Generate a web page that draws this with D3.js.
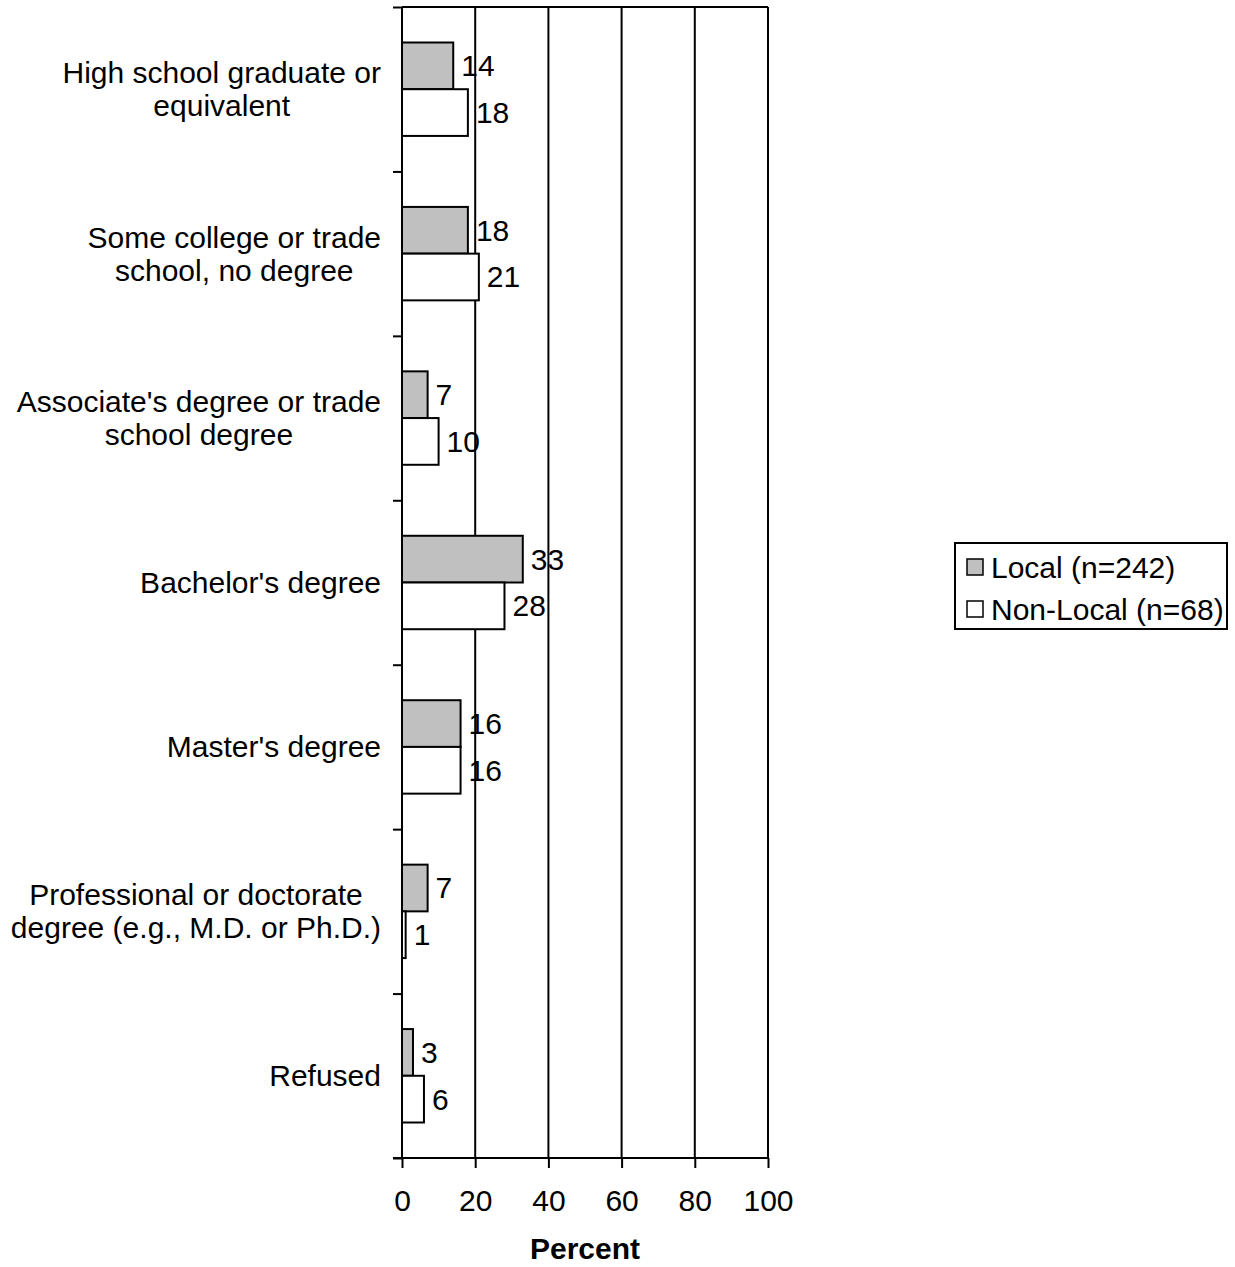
<!DOCTYPE html>
<html>
<head>
<meta charset="utf-8">
<script src="https://cdn.jsdelivr.net/npm/d3@7"></script>
<style>
  body { margin: 0; background: #fff; }
  svg text { font-family: "Liberation Sans", Arial, sans-serif; fill: #000; }
</style>
</head>
<body>
<svg id="chart"></svg>
<script>
// Education level by visitor type
const categories = [
    ["High school graduate or", "equivalent"],
    ["Some college or trade", "school, no degree"],
    ["Associate's degree or trade", "school degree"],
    ["Bachelor's degree"],
    ["Master's degree"],
    ["Professional or doctorate", "degree (e.g., M.D. or Ph.D.)"],
    ["Refused"]
];
const localValues = [14, 18, 7, 33, 16, 7, 3];
const nonLocalValues = [18, 21, 10, 28, 16, 1, 6];
const seriesNames = ["Local (n=242)", "Non-Local (n=68)"];
const xTicks = [0, 20, 40, 60, 80, 100];

const W = 1235, H = 1267;
const margin = {top: 7, left: 402, right: 467, bottom: 109};
const width = W - margin.left - margin.right;
const height = H - margin.top - margin.bottom;
const fontSize = 30;

const svg = d3.select("#chart")
    .attr("width", W)
    .attr("height", H)
    .append("g")
    .attr("transform", `translate(${margin.left},${margin.top})`);

const data = categories.map((c, i) => ({
    label: c,
    values: [localValues[i], nonLocalValues[i]]
}));

// Scales
const x = d3.scaleLinear().domain([0, 100]).range([0, width]);
const y = d3.scaleBand().domain(d3.range(categories.length)).range([0, height]);
const sub = d3.scaleBand().domain([0, 1]).range([0, y.bandwidth()]).paddingOuter(0.76).paddingInner(0);
const fills = ["#c0c0c0", "#ffffff"];

// Gridlines
svg.append("g")
    .selectAll("line")
    .data(xTicks.filter(t => t > 0))
    .enter()
    .append("line")
    .attr("x1", d => x(d))
    .attr("x2", d => x(d))
    .attr("y1", 0)
    .attr("y2", height)
    .attr("stroke", "#000")
    .attr("stroke-width", 2);

// top border of plot area
svg.append("line")
    .attr("x1", 0).attr("x2", width)
    .attr("y1", 0).attr("y2", 0)
    .attr("stroke", "#000").attr("stroke-width", 2);

// Bars
const groups = svg.selectAll(".cat")
    .data(data)
    .enter()
    .append("g")
    .attr("transform", (d, i) => `translate(0,${y(i)})`);

groups.selectAll("rect")
    .data(d => d.values)
    .enter()
    .append("rect")
    .attr("x", 0)
    .attr("y", (d, j) => sub(j))
    .attr("width", d => x(d))
    .attr("height", sub.bandwidth())
    .attr("fill", (d, j) => fills[j])
    .attr("stroke", "#000")
    .attr("stroke-width", 2);

groups.selectAll(".val")
    .data(d => d.values)
    .enter()
    .append("text")
    .attr("x", d => x(d) + 8)
    .attr("y", (d, j) => sub(j) + sub.bandwidth() / 2)
    .attr("dy", "0.35em")
    .attr("font-size", fontSize)
    .text(d => d);

// Category labels
groups.each(function(d) {
    const g = d3.select(this);
    const lineH = 33;
    const t = g.append("text")
        .attr("font-size", fontSize)
        .attr("text-anchor", "middle");
    d.label.forEach((line, k) => {
        t.append("tspan")
            .attr("x", 0)
            .attr("y", y.bandwidth() / 2 + (k - (d.label.length - 1) / 2) * lineH)
            .attr("dy", "0.35em")
            .text(line);
    });
    const bb = t.node().getBBox();
    t.attr("transform", `translate(${-21 - bb.width / 2},0)`);
});

// Left axis
const yAxis = svg.append("g")
    .call(d3.axisLeft(d3.scaleLinear().domain([0, categories.length]).range([0, height]))
        .ticks(categories.length).tickSize(9).tickFormat(""));
yAxis.select(".domain").attr("stroke-width", 2).attr("d", `M0,0V${height}`);
yAxis.selectAll(".tick line").attr("stroke-width", 2);

// Bottom axis
const xAxis = svg.append("g")
    .attr("transform", `translate(0,${height})`)
    .call(d3.axisBottom(x).tickValues(xTicks).tickSize(10).tickPadding(22));
xAxis.select(".domain").attr("stroke-width", 2).attr("d", `M-9,0H${width}`);
xAxis.selectAll(".tick line").attr("stroke-width", 2);
xAxis.selectAll(".tick text")
    .attr("font-size", fontSize)
    .attr("font-family", "Liberation Sans, Arial, sans-serif");

// Axis title
svg.append("text")
    .attr("x", width / 2)
    .attr("y", height + 101)
    .attr("text-anchor", "middle")
    .attr("font-size", fontSize)
    .attr("font-weight", "bold")
    .text("Percent");

// Legend
const legend = svg.append("g")
    .attr("transform", `translate(${955 - margin.left},${543 - margin.top})`);
legend.append("rect")
    .attr("width", 272)
    .attr("height", 86)
    .attr("fill", "#fff")
    .attr("stroke", "#000")
    .attr("stroke-width", 2);
seriesNames.forEach((name, i) => {
    const cy = 24 + i * 42;
    legend.append("rect")
        .attr("x", 12)
        .attr("y", cy - 8)
        .attr("width", 16)
        .attr("height", 16)
        .attr("fill", fills[i])
        .attr("stroke", "#000")
        .attr("stroke-width", 1.5);
    legend.append("text")
        .attr("x", 36)
        .attr("y", cy)
        .attr("dy", "0.35em")
        .attr("font-size", fontSize)
        .text(name);
});
</script>
</body>
</html>
